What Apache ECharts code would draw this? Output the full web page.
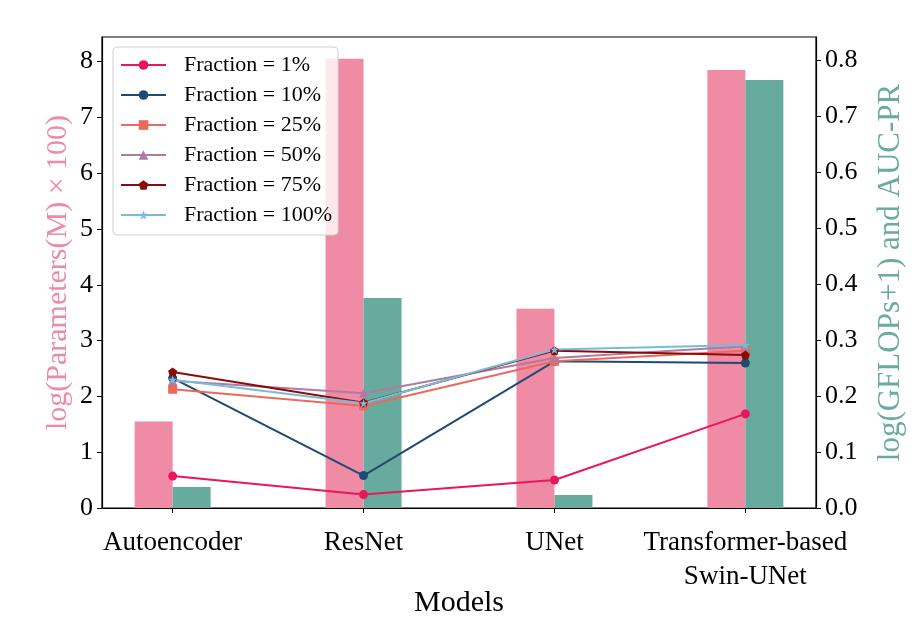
<!DOCTYPE html>
<html>
<head>
<meta charset="utf-8">
<script src="https://cdn.jsdelivr.net/npm/echarts@6/dist/echarts.min.js"></script>
<style>
    html, body { margin: 0; padding: 0; background: #fff; }
    #main { width: 917px; height: 634px; }
</style>
</head>
<body>
<div id="main"></div>
<script type="text/javascript">
    // 数据
    var models = ['Autoencoder', 'ResNet', 'UNet', 'Transformer-based\nSwin-UNet'];
    var params = [1.55, 8.05, 3.57, 7.85];        // log(Parameters(M) x 100)
    var gflops = [0.0375, 0.375, 0.023, 0.764];   // log(GFLOPs+1)
    var fractionNames = ['Fraction = 1%', 'Fraction = 10%', 'Fraction = 25%',
                         'Fraction = 50%', 'Fraction = 75%', 'Fraction = 100%'];
    var auc1   = [0.057, 0.024, 0.050, 0.168];
    var auc10  = [0.232, 0.058, 0.262, 0.259];
    var auc25  = [0.212, 0.182, 0.262, 0.281];
    var auc50  = [0.227, 0.205, 0.268, 0.289];
    var auc75  = [0.243, 0.188, 0.281, 0.273];
    var auc100 = [0.229, 0.187, 0.283, 0.291];
    var leftTicks  = [0, 1, 2, 3, 4, 5, 6, 7, 8];
    var rightTicks = [0, 0.1, 0.2, 0.3, 0.4, 0.5, 0.6, 0.7, 0.8];

    var font = 'Liberation Serif';
    var pentagon = 'path://M0,-1L0.951,-0.309L0.588,0.809L-0.588,0.809L-0.951,-0.309Z';
    var star = 'path://M0,-1L0.225,-0.309L0.951,-0.309L0.363,0.118L0.588,0.809L0,0.382L-0.588,0.809L-0.363,0.118L-0.951,-0.309L-0.225,-0.309Z';

    function pairs(arr) {
        return arr.map(function (v, i) { return [i, v]; });
    }

    var lineDefs = [
        { data: auc1,   color: '#e8175d', symbol: 'circle' },
        { data: auc10,  color: '#1f4a74', symbol: 'circle' },
        { data: auc25,  color: '#ec6a5c', symbol: 'rect' },
        { data: auc50,  color: '#b07aa1', symbol: 'triangle' },
        { data: auc75,  color: '#8b0a0a', symbol: pentagon },
        { data: auc100, color: '#79bcd8', symbol: star }
    ];

    var series = [{
        name: 'params',
        type: 'bar',
        yAxisIndex: 0,
        barWidth: 38,
        barGap: '0%',
        itemStyle: { color: '#ef8ba5' },
        data: pairs(params)
    }, {
        name: 'gflops',
        type: 'bar',
        yAxisIndex: 1,
        barWidth: 38,
        barGap: '0%',
        itemStyle: { color: '#67ab9f' },
        data: pairs(gflops)
    }];
    lineDefs.forEach(function (d, k) {
        series.push({
            name: fractionNames[k],
            type: 'line',
            yAxisIndex: 1,
            z: 5,
            symbol: d.symbol,
            symbolSize: 9,
            lineStyle: { color: d.color, width: 2 },
            itemStyle: { color: d.color },
            data: pairs(d.data)
        });
    });

    var myChart = echarts.init(document.getElementById('main'));
    myChart.setOption({
        animation: false,
        grid: {
            left: 102, right: 101, top: 37, bottom: 126,
            show: true, borderColor: '#000', borderWidth: 1.2
        },
        legend: {
            orient: 'vertical',
            left: 113, top: 47,
            padding: [7, 6, 9, 7],
            itemWidth: 45, itemHeight: 12, itemGap: 8,
            backgroundColor: 'rgba(255,255,255,0.8)',
            borderColor: '#d0d0d0', borderWidth: 1, borderRadius: 4,
            textStyle: { fontFamily: font, fontSize: 22, color: '#000', padding: [0, 0, 0, 13] },
            data: fractionNames
        },
        xAxis: {
            type: 'value',
            min: -0.37, max: 3.37,
            name: 'Models',
            nameLocation: 'middle',
            nameMoveOverlap: false,
            nameGap: 80,
            nameTextStyle: { fontFamily: font, fontSize: 30, color: '#000' },
            splitLine: { show: false },
            axisLine: { onZero: false, lineStyle: { color: '#000', width: 1.2 } },
            axisTick: { length: 5, customValues: [0, 1, 2, 3], lineStyle: { color: '#000' } },
            axisLabel: {
                customValues: [0, 1, 2, 3],
                formatter: function (v) { return models[Math.round(v)]; },
                fontFamily: font, fontSize: 27, color: '#000',
                lineHeight: 34, margin: 18
            }
        },
        yAxis: [{
            type: 'value',
            min: 0, max: 8.44,
            name: 'log(Parameters(M) × 100)',
            nameLocation: 'middle',
            nameMoveOverlap: false,
            nameRotate: 90,
            nameGap: 29,
            nameTextStyle: { fontFamily: font, fontSize: 30, color: '#ee8aa5' },
            splitLine: { show: false },
            axisLine: { show: true, onZero: false, lineStyle: { color: '#000', width: 1.2 } },
            axisTick: { show: true, length: 5, customValues: leftTicks, lineStyle: { color: '#000' } },
            axisLabel: {
                customValues: leftTicks,
                fontFamily: font, fontSize: 26, color: '#000', margin: 9
            }
        }, {
            type: 'value',
            min: 0, max: 0.841,
            position: 'right',
            name: 'log(GFLOPs+1) and AUC-PR',
            nameLocation: 'middle',
            nameMoveOverlap: false,
            nameRotate: 90,
            nameGap: 59,
            nameTextStyle: { fontFamily: font, fontSize: 31, color: '#6aab9c' },
            splitLine: { show: false },
            axisLine: { show: true, onZero: false, lineStyle: { color: '#000', width: 1.2 } },
            axisTick: { show: true, length: 5, customValues: rightTicks, lineStyle: { color: '#000' } },
            axisLabel: {
                customValues: rightTicks,
                formatter: function (v) { return v.toFixed(1); },
                fontFamily: font, fontSize: 26, color: '#000', margin: 9
            }
        }],
        series: series
    });
</script>
</body>
</html>
